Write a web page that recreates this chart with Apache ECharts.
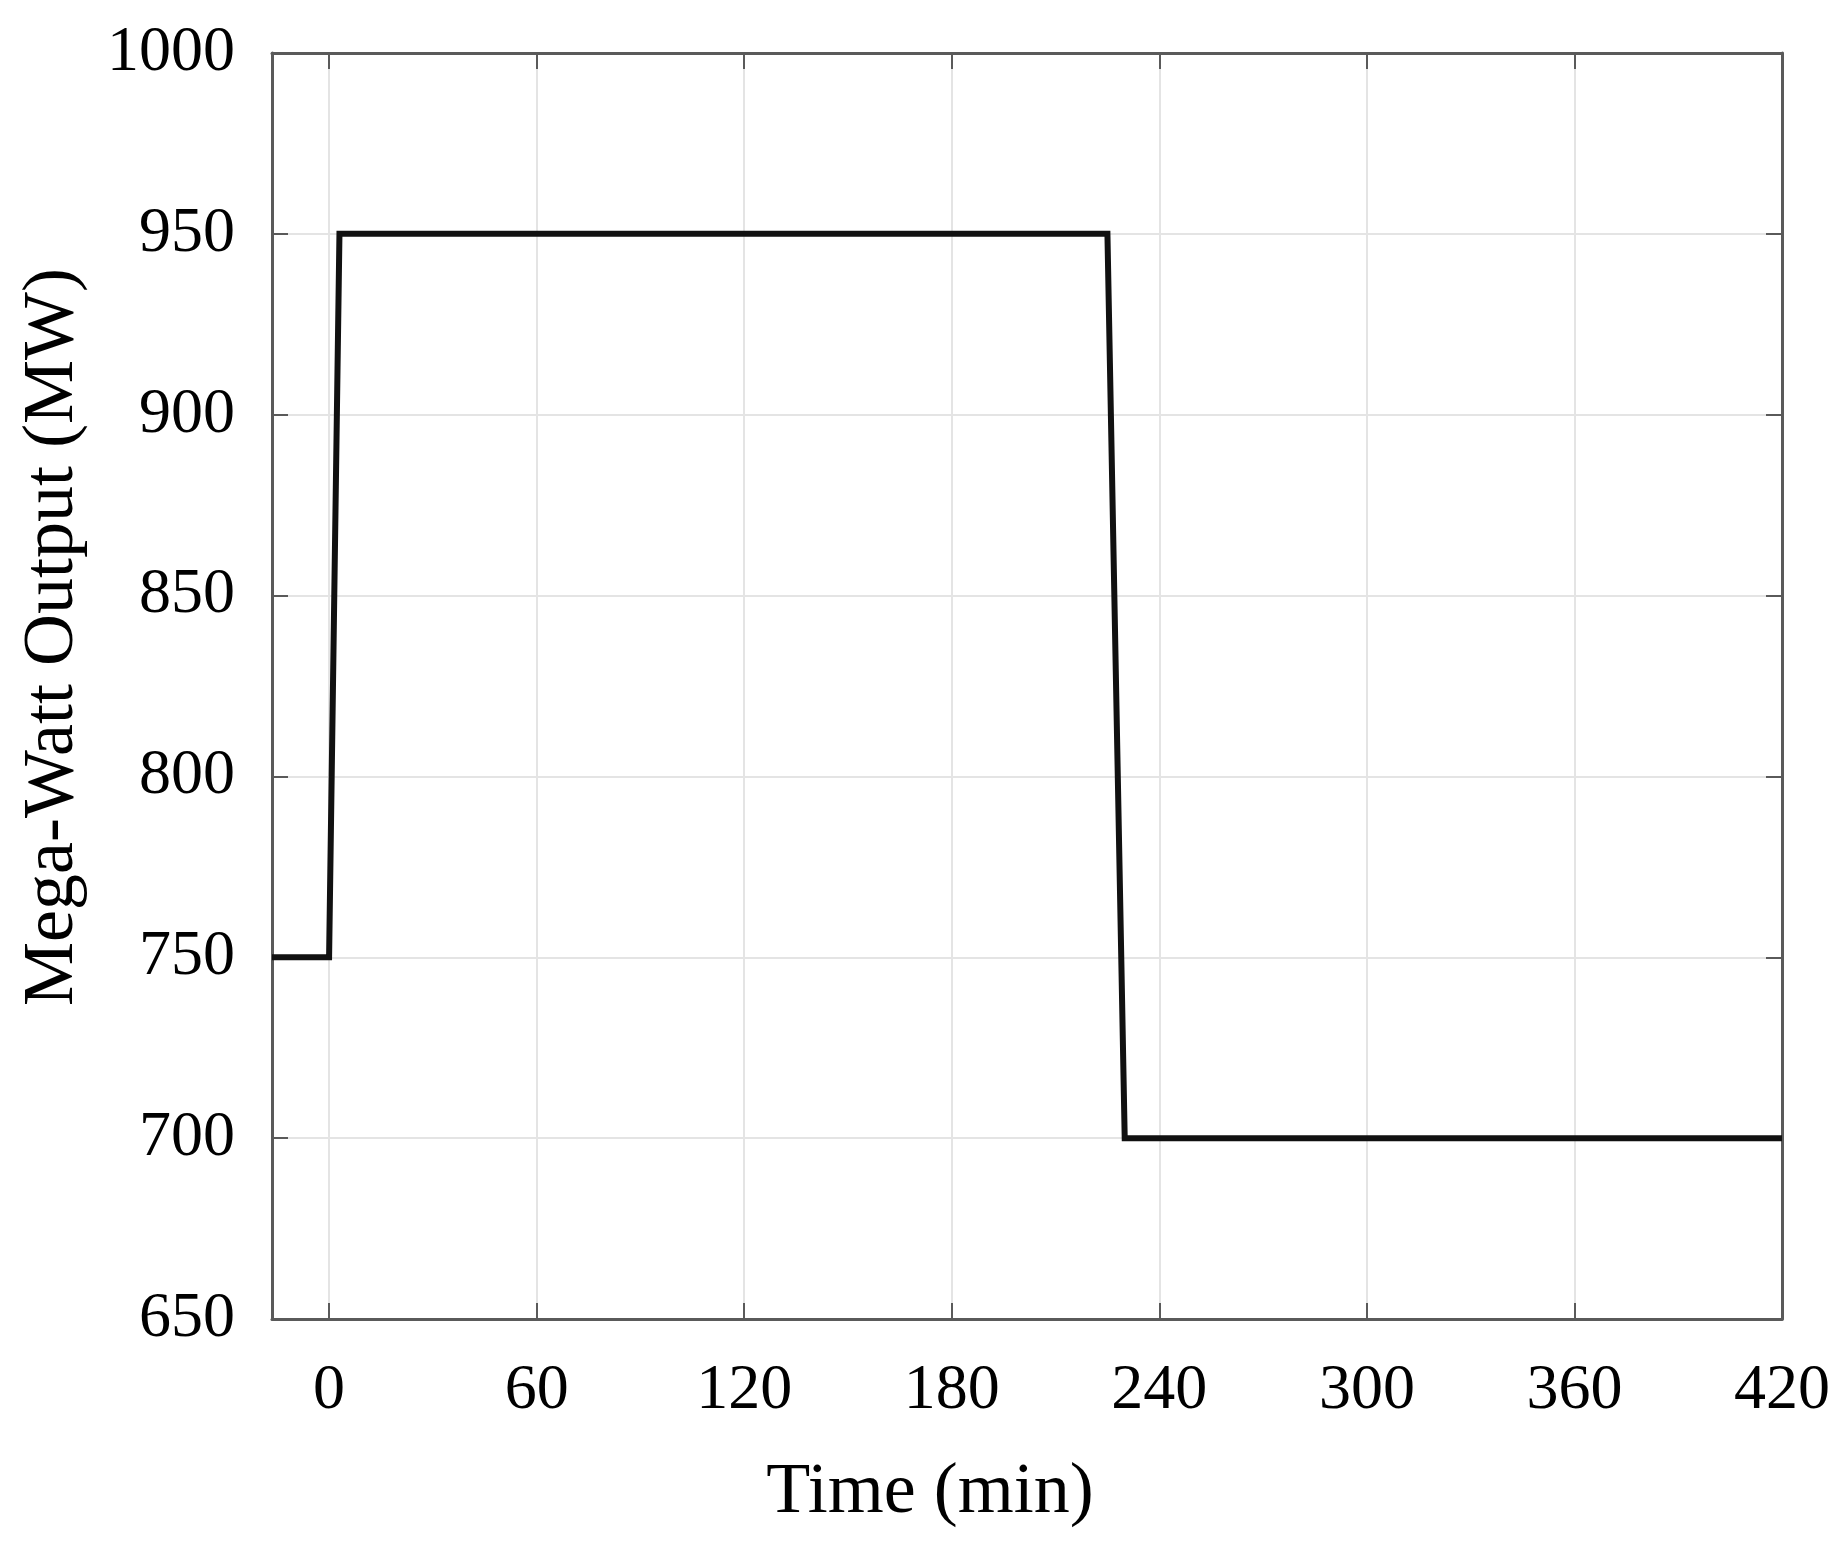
<!DOCTYPE html>
<html>
<head>
<meta charset="utf-8">
<script src="https://cdn.jsdelivr.net/npm/echarts@6/dist/echarts.min.js"></script>
<style>
html,body{margin:0;padding:0;background:#fff;}
#chart{width:1841px;height:1543px;}
</style>
</head>
<body>
<div id="chart"></div>
<script>
// Data
const timeMin = [-16.5, 0, 3, 225, 230, 420];
const outputMW = [750, 750, 950, 950, 700, 700];
const xTicks = [0, 60, 120, 180, 240, 300, 360, 420];
const yTicks = [650, 700, 750, 800, 850, 900, 950, 1000];
const xTitle = 'Time (min)';
const yTitle = 'Mega-Watt Output (MW)';

const FONT = 'Liberation Serif';
const AXIS_COLOR = '#5a5a5a';
const GRID_COLOR = '#e4e4e4';

const chart = echarts.init(document.getElementById('chart'));
const commonTick = { show: true, inside: true, length: 16, lineStyle: { color: AXIS_COLOR, width: 2 } };

chart.setOption({
  backgroundColor: '#ffffff',
  animation: false,
  grid: { left: 272, right: 1841 - 1782, top: 53, bottom: 1543 - 1319, containLabel: false },
  xAxis: [
    {
      type: 'value', position: 'bottom',
      min: timeMin[0], max: 420,
      name: xTitle, nameLocation: 'middle', nameGap: 138,
      nameTextStyle: { fontFamily: FONT, fontSize: 72, color: '#000', padding: [0, 194, 0, 0] },
      axisLine: { show: true, onZero: false, lineStyle: { color: AXIS_COLOR, width: 3 } },
      axisTick: Object.assign({}, commonTick, { customValues: xTicks }),
      axisLabel: { customValues: xTicks, fontFamily: FONT, fontSize: 64, color: '#000', margin: 40 },
      splitLine: { show: true, lineStyle: { color: GRID_COLOR, width: 2 } }
    },
    {
      type: 'value', position: 'top',
      min: timeMin[0], max: 420,
      axisLine: { show: true, onZero: false, lineStyle: { color: AXIS_COLOR, width: 3 } },
      axisTick: Object.assign({}, commonTick, { customValues: xTicks }),
      axisLabel: { show: false, customValues: xTicks },
      splitLine: { show: false }
    }
  ],
  yAxis: [
    {
      type: 'value', position: 'left',
      min: yTicks[0], max: yTicks[yTicks.length - 1], interval: 50,
      name: yTitle, nameLocation: 'middle', nameGap: 183, nameRotate: 90,
      nameTextStyle: { fontFamily: FONT, fontSize: 72, color: '#000', padding: [0, 0, 0, 98] },
      axisLine: { show: true, onZero: false, lineStyle: { color: AXIS_COLOR, width: 3 } },
      axisTick: commonTick,
      axisLabel: { fontFamily: FONT, fontSize: 64, color: '#000', margin: 37, formatter: v => String(v) },
      splitLine: { show: true, lineStyle: { color: GRID_COLOR, width: 2 } }
    },
    {
      type: 'value', position: 'right',
      min: yTicks[0], max: yTicks[yTicks.length - 1], interval: 50,
      axisLine: { show: true, onZero: false, lineStyle: { color: AXIS_COLOR, width: 3 } },
      axisTick: commonTick,
      axisLabel: { show: false },
      splitLine: { show: false }
    }
  ],
  series: [
    {
      type: 'line',
      xAxisIndex: 0, yAxisIndex: 0,
      data: timeMin.map((t, i) => [t, outputMW[i]]),
      showSymbol: false,
      symbol: 'none',
      lineStyle: { color: '#111111', width: 6, join: 'miter' },
      clip: true
    }
  ]
});
</script>
</body>
</html>
